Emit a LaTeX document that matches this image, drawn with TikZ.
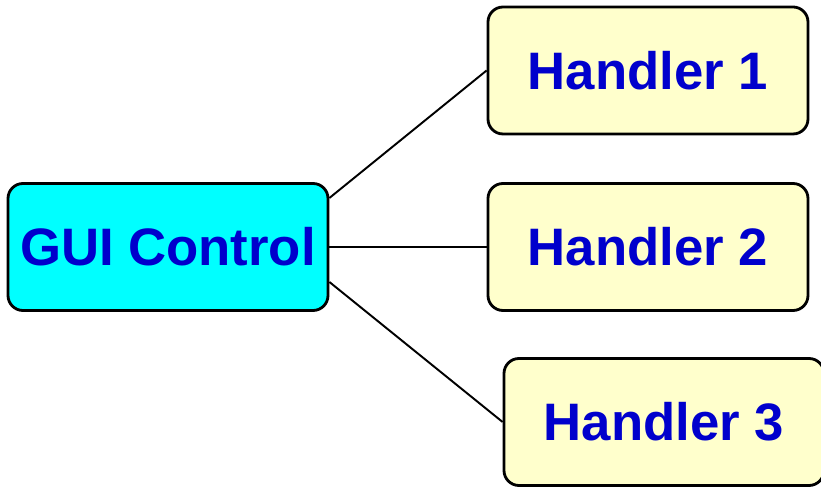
\documentclass[tikz,border=0pt]{standalone}
\usepackage{fontspec}
\setmainfont{Liberation Sans}
\usepackage{tikz}
\usetikzlibrary{positioning}
\definecolor{guifill}{RGB}{0,255,255}
\definecolor{handlerfill}{RGB}{255,255,204}
\definecolor{labelblue}{RGB}{0,0,204}

\begin{document}
\begin{tikzpicture}[
    box/.style={draw=black, line width=1.6pt, rounded corners=0.3cm,
      minimum width=6.4cm, minimum height=2.54cm, inner sep=0pt,
      font=\fontsize{30}{36}\selectfont\bfseries, text=labelblue},
    link/.style={line width=1.1pt}]
    \useasboundingbox (0,0) rectangle (16.42,9.74);

    % Control box
    \node[box, fill=guifill] (gui) at (3.36,4.80) {GUI Control};

    % Handlers
    \node[box, fill=handlerfill] (h1) at (12.96,8.33) {Handler 1};
    \node[box, fill=handlerfill] (h2) at (12.96,4.80) {Handler 2};
    \node[box, fill=handlerfill] (h3) at (13.28,1.30) {Handler 3};

    % Links
    \draw[link] ([yshift=0.98cm]gui.east) -- (h1.west);
    \draw[link] (gui.east) -- (h2.west);
    \draw[link] ([yshift=-0.7cm]gui.east) -- (h3.west);
\end{tikzpicture}
\end{document}
